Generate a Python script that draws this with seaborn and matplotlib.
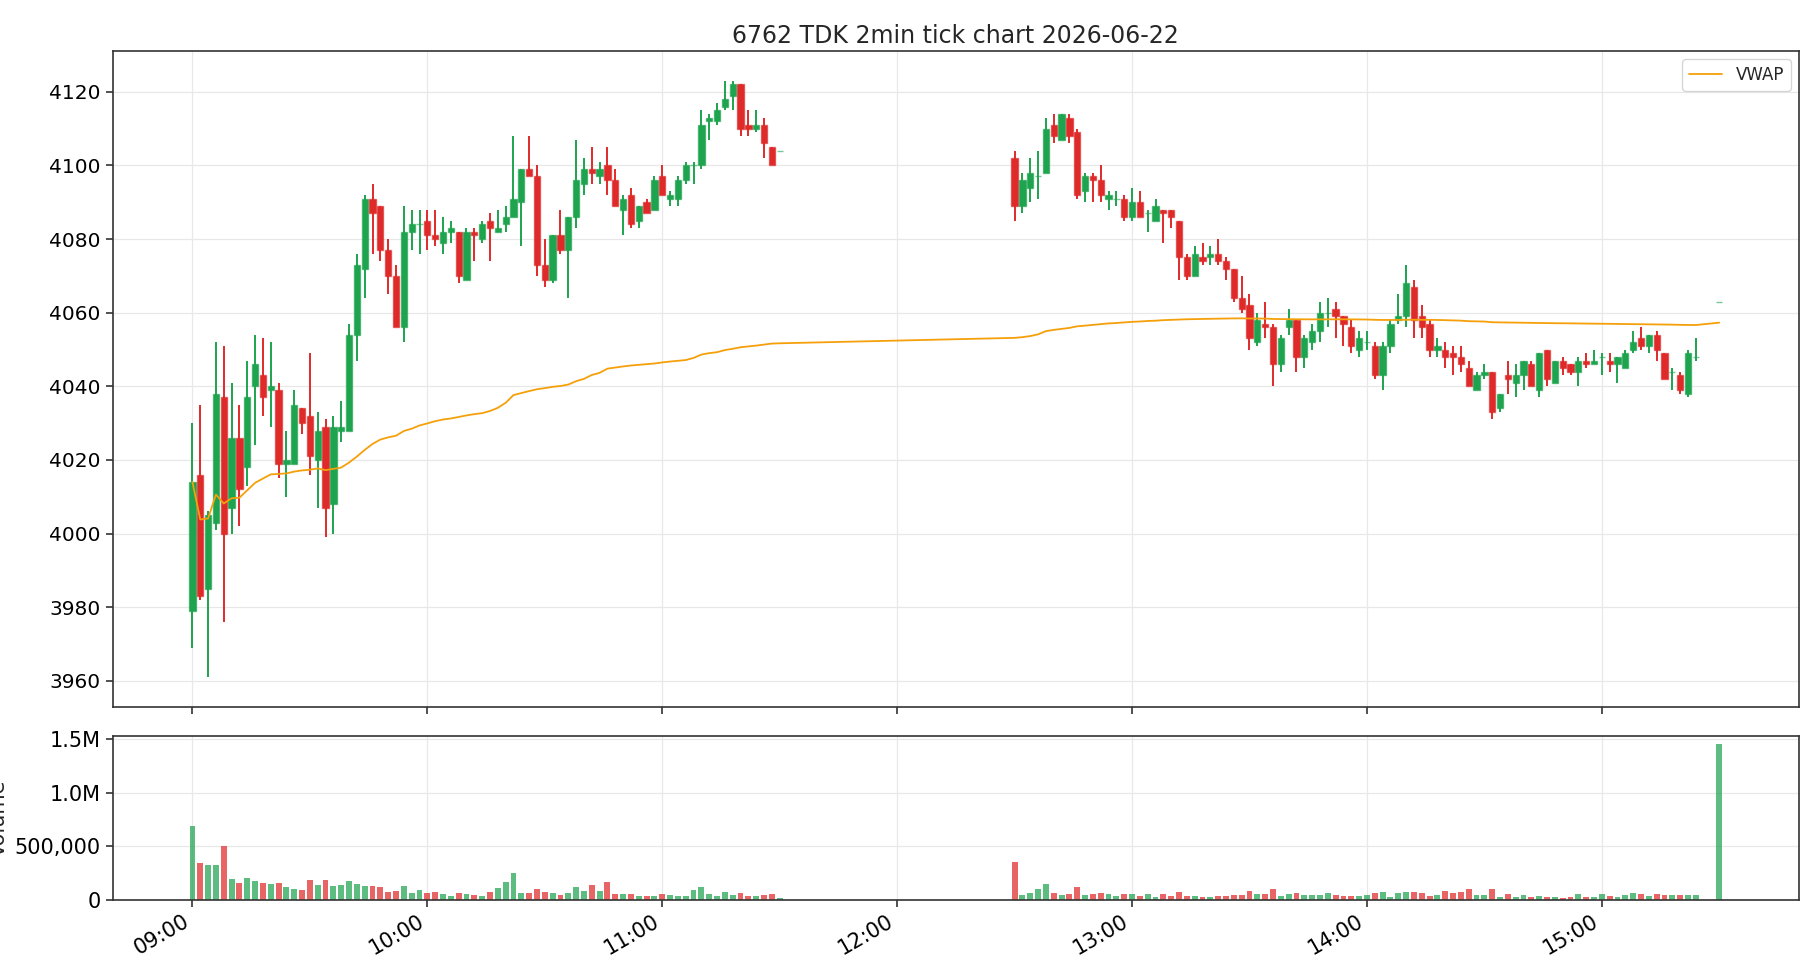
import numpy as np
import pandas as pd
import matplotlib
matplotlib.use("Agg")
import matplotlib.pyplot as plt
import matplotlib.dates as mdates
from matplotlib.ticker import FuncFormatter
import seaborn as sns

# 2-minute bars, 2026-06-22 (morning session + 11:30 close, afternoon + 15:30 close auction)
day = "2026-06-22"
am_times = list(pd.date_range(f"{day} 09:00", f"{day} 11:28", freq="2min")) + [pd.Timestamp(f"{day} 11:30")]
pm_times = list(pd.date_range(f"{day} 12:30", f"{day} 15:24", freq="2min")) + [pd.Timestamp(f"{day} 15:30")]

am_open = [3979, 4016, 3985, 4003, 4037, 4007, 4026, 4018, 4040, 4043, 4039, 4039, 4019, 4019, 4034, 4032,
           4020, 4029, 4008, 4028, 4028, 4054, 4072, 4091, 4089, 4077, 4070, 4056, 4082, 4084, 4085, 4081,
           4079, 4082, 4082, 4069, 4082, 4080, 4085, 4082, 4084, 4086, 4090, 4099, 4097, 4073, 4069, 4081,
           4077, 4086, 4095, 4099, 4097, 4100, 4096, 4088, 4092, 4085, 4090, 4088, 4097, 4091, 4091, 4096,
           4100, 4100, 4112, 4112, 4116, 4119, 4122, 4111, 4110, 4111, 4105, 4104]
am_high = [4030, 4035, 4006, 4052, 4051, 4041, 4035, 4047, 4054, 4053, 4052, 4041, 4028, 4039, 4034, 4049,
           4033, 4031, 4032, 4036, 4057, 4076, 4092, 4095, 4089, 4080, 4073, 4089, 4088, 4088, 4088, 4088,
           4086, 4085, 4082, 4083, 4083, 4085, 4087, 4088, 4089, 4108, 4099, 4108, 4100, 4080, 4081, 4088,
           4086, 4107, 4102, 4105, 4101, 4105, 4099, 4092, 4094, 4089, 4091, 4097, 4100, 4093, 4097, 4101,
           4101, 4115, 4114, 4117, 4123, 4123, 4122, 4115, 4115, 4113, 4105, 4104]
am_low = [3969, 3982, 3961, 4001, 3976, 4000, 4002, 4013, 4024, 4032, 4029, 4015, 4010, 4019, 4027, 4016,
          4007, 3999, 4000, 4025, 4028, 4047, 4064, 4076, 4074, 4065, 4056, 4052, 4077, 4076, 4077, 4078,
          4076, 4079, 4068, 4069, 4074, 4079, 4074, 4082, 4082, 4086, 4078, 4097, 4070, 4067, 4068, 4076,
          4064, 4083, 4092, 4095, 4095, 4092, 4089, 4081, 4083, 4083, 4087, 4088, 4092, 4089, 4089, 4095,
          4095, 4099, 4107, 4111, 4115, 4115, 4108, 4108, 4109, 4102, 4100, 4104]
am_close = [4014, 3983, 4005, 4038, 4000, 4026, 4012, 4037, 4046, 4037, 4040, 4019, 4020, 4035, 4030, 4021,
            4028, 4007, 4029, 4029, 4054, 4073, 4091, 4087, 4077, 4070, 4056, 4082, 4084, 4084, 4081, 4080,
            4082, 4083, 4070, 4082, 4081, 4084, 4083, 4083, 4086, 4091, 4099, 4097, 4073, 4069, 4081, 4077,
            4086, 4096, 4099, 4098, 4099, 4096, 4089, 4091, 4084, 4089, 4087, 4096, 4092, 4092, 4096, 4100,
            4100, 4111, 4113, 4115, 4118, 4122, 4110, 4110, 4111, 4106, 4100, 4104]
am_volume = [692, 338, 320, 320, 497, 189, 152, 199, 171, 152, 143, 152, 115, 96, 87, 180,
             134, 180, 124, 134, 171, 143, 124, 124, 115, 68, 78, 124, 59, 87, 59, 68,
             50, 31, 59, 50, 40, 31, 68, 106, 161, 245, 59, 59, 96, 68, 59, 40,
             59, 115, 78, 134, 78, 161, 50, 50, 50, 31, 31, 31, 50, 40, 31, 31,
             87, 115, 50, 31, 68, 40, 59, 31, 31, 40, 50, 12]

pm_open = [4102, 4089, 4094, 4097, 4098, 4111, 4107, 4113, 4109, 4093, 4097, 4096, 4091, 4091, 4091, 4086,
           4090, 4087, 4085, 4088, 4088, 4085, 4075, 4070, 4075, 4075, 4076, 4074, 4072, 4064, 4062, 4052,
           4057, 4056, 4046, 4056, 4058, 4048, 4052, 4055, 4060, 4061, 4059, 4056, 4050, 4052, 4051, 4043,
           4051, 4058, 4059, 4067, 4059, 4057, 4050, 4050, 4049, 4048, 4045, 4039, 4043, 4044, 4034, 4043,
           4041, 4043, 4046, 4039, 4050, 4041, 4047, 4046, 4044, 4047, 4046, 4048, 4047, 4046, 4045, 4050,
           4053, 4051, 4054, 4049, 4044, 4043, 4038, 4048, 4063]
pm_high = [4104, 4098, 4102, 4104, 4113, 4114, 4114, 4114, 4110, 4098, 4098, 4100, 4093, 4093, 4092, 4094,
           4093, 4088, 4091, 4088, 4088, 4085, 4076, 4078, 4079, 4078, 4080, 4075, 4072, 4070, 4065, 4060,
           4063, 4057, 4054, 4061, 4058, 4054, 4057, 4063, 4064, 4063, 4059, 4058, 4055, 4055, 4052, 4052,
           4058, 4065, 4073, 4069, 4062, 4058, 4053, 4052, 4051, 4051, 4047, 4044, 4046, 4044, 4038, 4047,
           4046, 4047, 4047, 4049, 4050, 4047, 4048, 4046, 4048, 4049, 4050, 4049, 4049, 4048, 4050, 4055,
           4056, 4054, 4055, 4049, 4045, 4044, 4050, 4053, 4063]
pm_low = [4085, 4087, 4090, 4091, 4098, 4106, 4107, 4106, 4091, 4090, 4090, 4090, 4088, 4089, 4085, 4085,
          4086, 4082, 4085, 4079, 4083, 4069, 4069, 4070, 4073, 4073, 4073, 4069, 4063, 4060, 4050, 4051,
          4053, 4040, 4044, 4054, 4044, 4045, 4050, 4052, 4056, 4053, 4051, 4049, 4048, 4050, 4042, 4039,
          4049, 4057, 4056, 4053, 4053, 4048, 4048, 4045, 4043, 4044, 4040, 4039, 4042, 4031, 4033, 4038,
          4037, 4039, 4040, 4037, 4040, 4041, 4043, 4043, 4040, 4045, 4046, 4043, 4044, 4041, 4045, 4049,
          4050, 4049, 4047, 4042, 4039, 4038, 4037, 4047, 4063]
pm_close = [4089, 4096, 4098, 4097, 4110, 4108, 4114, 4108, 4092, 4097, 4096, 4092, 4092, 4091, 4086, 4090,
            4086, 4087, 4089, 4087, 4086, 4075, 4070, 4076, 4074, 4076, 4074, 4072, 4064, 4061, 4053, 4058,
            4056, 4046, 4053, 4058, 4048, 4053, 4055, 4060, 4060, 4059, 4057, 4051, 4053, 4052, 4043, 4051,
            4057, 4059, 4068, 4058, 4056, 4050, 4051, 4048, 4048, 4046, 4040, 4043, 4044, 4033, 4038, 4042,
            4043, 4047, 4040, 4049, 4042, 4047, 4045, 4044, 4047, 4046, 4047, 4048, 4046, 4048, 4049, 4052,
            4051, 4054, 4050, 4042, 4044, 4039, 4049, 4048, 4063]
pm_volume = [348, 40, 59, 96, 143, 59, 40, 50, 115, 40, 50, 59, 50, 31, 50, 50,
             31, 50, 22, 50, 31, 68, 31, 31, 22, 22, 31, 31, 40, 40, 78, 50,
             50, 96, 31, 50, 59, 40, 40, 40, 59, 40, 31, 31, 31, 40, 59, 68,
             22, 59, 68, 68, 59, 31, 40, 78, 59, 68, 96, 40, 40, 96, 22, 50,
             22, 40, 22, 31, 22, 22, 12, 22, 50, 22, 22, 50, 31, 22, 40, 59,
             50, 31, 50, 40, 40, 40, 40, 40, 1457]  # thousands of shares

df = pd.DataFrame({
    "time": am_times + pm_times,
    "open": am_open + pm_open,
    "high": am_high + pm_high,
    "low": am_low + pm_low,
    "close": am_close + pm_close,
    "volume": np.array(am_volume + pm_volume) * 1000,
})
df["x"] = mdates.date2num(df["time"].dt.to_pydatetime())
df["vwap"] = (df["close"] * df["volume"]).cumsum() / df["volume"].cumsum()

GREEN = "#1ea34f"
RED = "#df2a2a"
up = df["close"] >= df["open"]
colors = np.where(up, GREEN, RED)

sns.set_theme(style="whitegrid")
plt.rcParams.update({
    "axes.edgecolor": "#333333",
    "axes.linewidth": 1.2,
    "grid.color": "#e8e8e8",
    "grid.linewidth": 0.9,
    "xtick.bottom": True,
    "ytick.left": True,
    "xtick.color": "#333333",
    "ytick.color": "#333333",
    "xtick.labelcolor": "black",
    "ytick.labelcolor": "black",
    "xtick.major.size": 5,
    "ytick.major.size": 5,
    "xtick.major.width": 1.2,
    "ytick.major.width": 1.2,
})
plt.rcParams["font.family"] = ["DejaVu Sans"]

fig = plt.figure(figsize=(18.2, 9.8), dpi=100)
ax = fig.add_axes([0.0619, 0.2786, 0.9266, 0.6694])
axv = fig.add_axes([0.0619, 0.0820, 0.9266, 0.1671], sharex=ax)

bar_w = 2 / 1440 * 0.8
ax.vlines(df["x"], df["low"], df["high"], colors=colors, linewidth=1.4, zorder=2)
ax.bar(df["x"], (df["close"] - df["open"]).abs(), bottom=np.minimum(df["open"], df["close"]),
       width=bar_w, color=colors, edgecolor=[c + "99" for c in colors], linewidth=1.0, zorder=3)
sns.lineplot(x=df["x"], y=df["vwap"], ax=ax, color="#f5a00a", linewidth=1.3, label="VWAP", zorder=4)

ax.set_title("6762 TDK 2min tick chart 2026-06-22", fontsize=17)
ax.set_xlabel("")
ax.set_ylabel("")
ax.set_yticks(np.arange(3960, 4121, 20))
ax.tick_params(axis="both", labelsize=14.5)
ax.tick_params(axis="x", labelbottom=False)
ax.legend(loc="upper right", fontsize=12, frameon=True, fancybox=True, edgecolor="#cccccc")

axv.bar(df["x"], df["volume"], width=2 / 1440 * 0.75, color=colors, alpha=0.72, linewidth=0)
axv.set_ylabel("Volume", fontsize=15)
axv.set_yticks([0, 500000, 1000000, 1500000])
axv.yaxis.set_major_formatter(FuncFormatter(lambda v, p: f"{v / 1e6:.1f}M" if v >= 1e6 else f"{v:,.0f}"))
axv.xaxis.set_major_locator(mdates.HourLocator())
axv.xaxis.set_major_formatter(mdates.DateFormatter("%H:%M"))
axv.tick_params(axis="both", labelsize=15)
plt.setp(axv.get_xticklabels(), rotation=30, ha="right")

fig.savefig("out.png", dpi=100)
